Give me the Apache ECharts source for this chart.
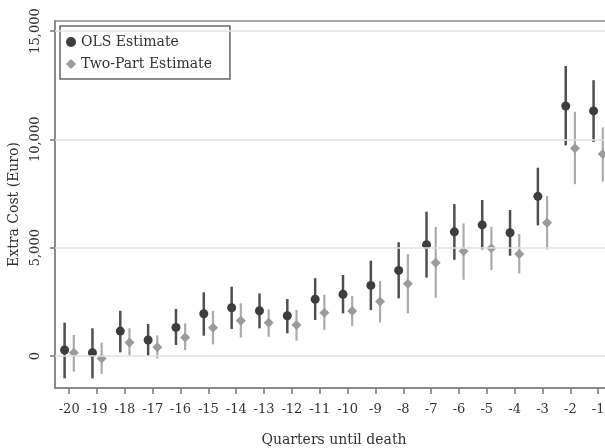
<!DOCTYPE html>
<html>
<head>
<meta charset="utf-8">
<script src="https://cdn.jsdelivr.net/npm/echarts@6/dist/echarts.min.js"></script>
<style>
  html, body { margin: 0; padding: 0; background: #fff; }
  #main { width: 605px; height: 448px; }
</style>
</head>
<body>
<div id="main"></div>
<script>
// quarters until death
var quarters = [-20,-19,-18,-17,-16,-15,-14,-13,-12,-11,-10,-9,-8,-7,-6,-5,-4,-3,-2,-1];

// OLS estimate with 95% CI
var olsEst  = [280, 150, 1150, 740, 1320, 1950, 2230, 2090, 1860, 2620, 2850, 3260, 3950, 5140, 5730, 6050, 5690, 7370, 11540, 11310];
var olsLow  = [-1030, -1030, 170, 0, 510, 940, 1250, 1280, 1050, 1660, 1970, 2120, 2660, 3620, 4440, 4920, 4630, 6030, 9720, 9880];
var olsHigh = [1540, 1280, 2090, 1480, 2170, 2940, 3200, 2890, 2630, 3590, 3740, 4400, 5250, 6660, 7010, 7200, 6740, 8690, 13380, 12730];

// Two-part estimate with 95% CI
var tpEst  = [150, -110, 630, 400, 860, 1310, 1630, 1540, 1430, 2000, 2080, 2520, 3340, 4300, 4830, 4970, 4710, 6150, 9590, 9320];
var tpLow  = [-720, -830, 0, -110, 280, 540, 850, 890, 710, 1200, 1390, 1550, 1970, 2690, 3520, 3970, 3820, 4920, 7930, 8050];
var tpHigh = [970, 620, 1280, 950, 1510, 2080, 2430, 2150, 2120, 2820, 2770, 3460, 4690, 5950, 6120, 5970, 5630, 7390, 11270, 10550];

var yTicks = [0, 5000, 10000, 15000];

var olsColor = '#3d3d3d', olsBar = '#4f4f4f';
var tpColor = '#9b9b9b', tpBar = '#ababab';
var font = 'DejaVu Serif';

var shiftOls = -0.165, shiftTp = 0.165;

function pts(est, shift) {
    return quarters.map(function (q, i) { return [q + shift, est[i]]; });
}
function ci(low, high, shift) {
    return quarters.map(function (q, i) { return [q + shift, low[i], high[i]]; });
}
function barRender(color, width) {
    return function (params, api) {
        var a = api.coord([api.value(0), api.value(1)]);
        var b = api.coord([api.value(0), api.value(2)]);
        return {
            type: 'line',
            shape: { x1: a[0], y1: a[1], x2: b[0], y2: b[1] },
            style: { stroke: color, lineWidth: width }
        };
    };
}

var chart = echarts.init(document.getElementById('main'));

var option = {
    backgroundColor: '#fff',
    animation: false,
    textStyle: { fontFamily: font },
    // plot runs past the right edge of the picture, as in the cropped original
    grid: {
        left: 55, top: 21, width: 558, bottom: 60,
        outerBoundsMode: 'none',
        show: true, borderColor: '#8a8a8a', borderWidth: 1.5
    },
    legend: {
        data: [
            { name: 'OLS Estimate', icon: 'circle', itemStyle: { color: olsColor } },
            { name: 'Two-Part Estimate', icon: 'diamond', itemStyle: { color: tpColor } }
        ],
        orient: 'vertical',
        left: 60, top: 26,
        itemWidth: 10, itemHeight: 10, itemGap: 8,
        padding: [9, 18, 8, 6],
        borderColor: '#666', borderWidth: 1.5,
        textStyle: { fontFamily: font, fontSize: 14, color: '#333' }
    },
    xAxis: {
        type: 'value',
        min: -20.51, max: -0.467,
        name: 'Quarters until death',
        nameLocation: 'middle',
        nameGap: 45,
        nameTextStyle: { fontFamily: font, fontSize: 14, color: '#333' },
        axisLine: { show: true, onZero: false, lineStyle: { color: '#8a8a8a', width: 2 } },
        axisTick: { show: true, customValues: quarters, length: 6, lineStyle: { color: '#777', width: 1.5 } },
        axisLabel: { customValues: quarters, fontSize: 13, color: '#333', margin: 15 },
        splitLine: { show: false }
    },
    yAxis: {
        type: 'value',
        min: -1475, max: 15460,
        name: 'Extra Cost (Euro)',
        nameLocation: 'middle',
        nameGap: 27,
        nameTextStyle: { fontFamily: font, fontSize: 14, color: '#333' },
        axisLine: { show: true, onZero: false, lineStyle: { color: '#8a8a8a', width: 2 } },
        axisTick: { show: true, customValues: yTicks, length: 5, lineStyle: { color: '#777', width: 1.5 } },
        axisLabel: { customValues: yTicks, rotate: 90, fontSize: 13, color: '#333', margin: 13 },
        splitLine: { show: false }
    },
    series: [
        {
            name: 'gridlines',
            type: 'line',
            data: [],
            z: 1,
            markLine: {
                silent: true,
                symbol: ['none', 'none'],
                label: { show: false },
                lineStyle: { color: '#e2e2e2', width: 1.5, type: 'solid' },
                data: yTicks.map(function (v) { return { yAxis: v }; })
            }
        },
        {
            name: 'OLS CI',
            type: 'custom',
            renderItem: barRender(olsBar, 2.5),
            data: ci(olsLow, olsHigh, shiftOls),
            encode: { x: 0, y: [1, 2] },
            z: 2
        },
        {
            name: 'Two-Part CI',
            type: 'custom',
            renderItem: barRender(tpBar, 2.2),
            data: ci(tpLow, tpHigh, shiftTp),
            encode: { x: 0, y: [1, 2] },
            z: 2
        },
        {
            name: 'OLS Estimate',
            type: 'scatter',
            symbol: 'circle',
            symbolSize: 9,
            itemStyle: { color: olsColor, opacity: 1 },
            data: pts(olsEst, shiftOls),
            z: 3
        },
        {
            name: 'Two-Part Estimate',
            type: 'scatter',
            symbol: 'diamond',
            symbolSize: 10,
            itemStyle: { color: tpColor, opacity: 1 },
            data: pts(tpEst, shiftTp),
            z: 3
        }
    ]
};

chart.setOption(option);
</script>
</body>
</html>
